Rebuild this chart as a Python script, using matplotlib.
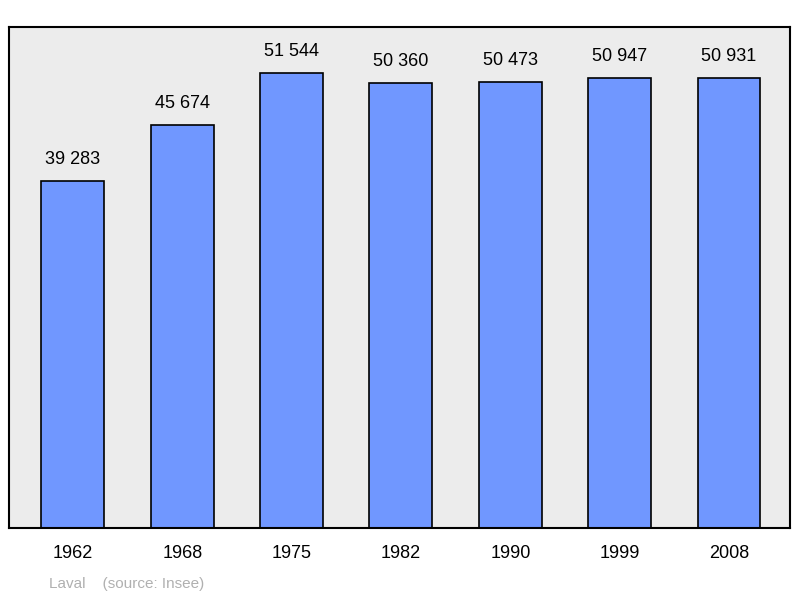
import matplotlib
matplotlib.use("Agg")
import matplotlib.pyplot as plt

years = ["1962", "1968", "1975", "1982", "1990", "1999", "2008"]
population = [39283, 45674, 51544, 50360, 50473, 50947, 50931]
value_labels = ["39 283", "45 674", "51 544", "50 360", "50 473", "50 947", "50 931"]

plt.rcParams['font.family'] = ['Liberation Sans', 'DejaVu Sans']
fig = plt.figure(figsize=(8, 5.98), dpi=100)
ax = fig.add_axes([9 / 800, 1 - 528 / 598, 781 / 800, 501 / 598])
ax.set_facecolor("#ececec")

x = range(len(years))
ax.bar(x, population, width=0.576, color="#7097ff", edgecolor="black", linewidth=1.2)
for i, (v, lab) in enumerate(zip(population, value_labels)):
    ax.text(i, v + 1500, lab, ha="center", va="bottom", fontsize=13)

ax.set_xlim(-0.585, 6.558)
ax.set_ylim(0, 51544 * 501 / 455)
ax.set_yticks([])
ax.set_xticks(list(x))
ax.set_xticklabels(years, fontsize=13)
ax.tick_params(axis="x", length=0, pad=12)
for s in ax.spines.values():
    s.set_linewidth(1.5)

fig.text(49 / 800, 1 - 584 / 598, "Laval    (source: Insee)", color="#b0b0b0", fontsize=11, va="center")
fig.savefig("out.png", dpi=100)
